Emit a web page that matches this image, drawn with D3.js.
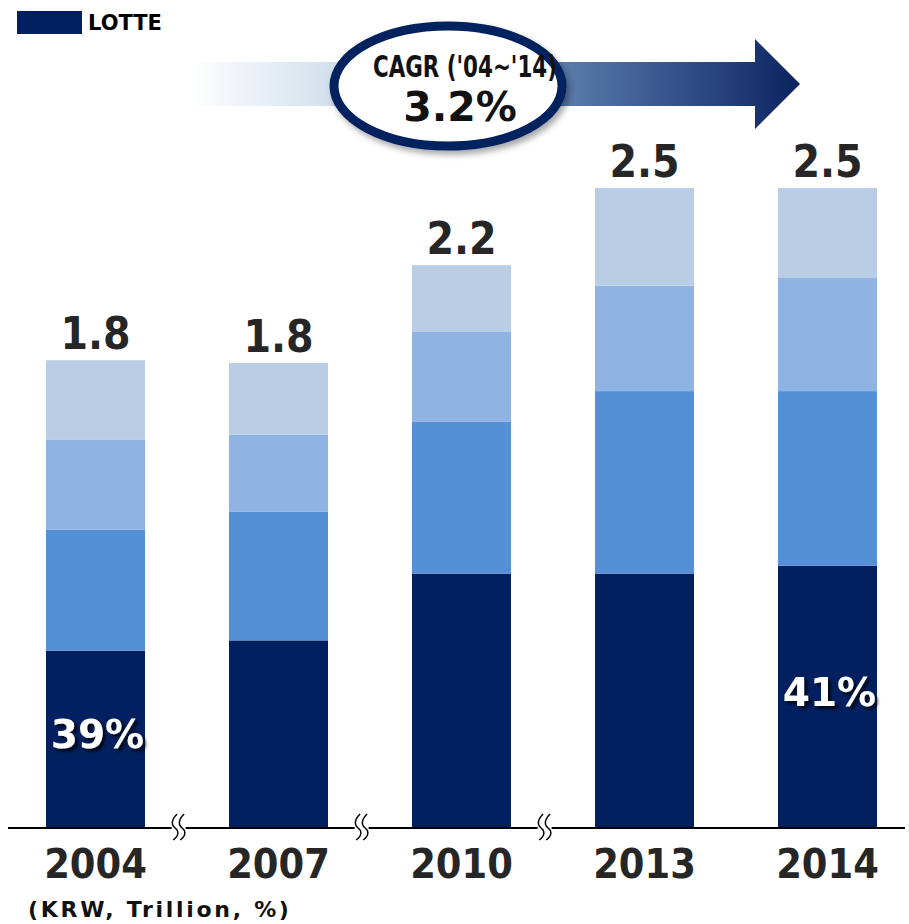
<!DOCTYPE html>
<html>
<head>
<meta charset="utf-8">
<script src="https://cdn.jsdelivr.net/npm/d3@7"></script>
<style>
  html, body { margin: 0; padding: 0; background: #ffffff; }
  svg { display: block; }
</style>
</head>
<body>
<svg id="chart" width="909" height="924"></svg>
<script>
// ---- data ----
const years = ["2004", "2007", "2010", "2013", "2014"];
const lotte  = [0.69, 0.73, 0.99, 0.99, 1.02];
const seg2   = [0.47, 0.50, 0.59, 0.71, 0.68];
const seg3   = [0.35, 0.30, 0.35, 0.41, 0.44];
const seg4   = [0.31, 0.28, 0.26, 0.38, 0.35];
const totalLabels = ["1.8", "1.8", "2.2", "2.5", "2.5"];
const shareLabels = ["39%", "", "", "", "41%"];
const legendLabel = "LOTTE";
const cagrTitle = "CAGR ('04~'14)";
const cagrValue = "3.2%";
const unitLabel = "(KRW, Trillion, %)";

const seriesKeys = ["lotte", "seg2", "seg3", "seg4"];
const colors = {lotte: "#02205f", seg2: "#5590d6", seg3: "#8fb4e3", seg4: "#b9cde5"};

const rows = years.map((y, i) => ({year: y, lotte: lotte[i], seg2: seg2[i], seg3: seg3[i], seg4: seg4[i]}));

const svg = d3.select("#chart");
const defs = svg.append("defs");

const baseY = 828;
const x = d3.scaleBand().domain(years).range([46, 877]).paddingInner(0.459).paddingOuter(0);
const y = d3.scaleLinear().domain([0, 3]).range([baseY, baseY - 771]);

// ---- stacked bars ----
const stack = d3.stack().keys(seriesKeys)(rows);
svg.append("g").selectAll("g").data(stack).join("g")
  .attr("fill", d => colors[d.key])
  .selectAll("rect").data(d => d).join("rect")
  .attr("x", d => x(d.data.year))
  .attr("width", x.bandwidth())
  .attr("y", d => y(d[1]))
  .attr("height", d => y(d[0]) - y(d[1]));

// ---- axis line ----
svg.append("line").attr("x1", 8).attr("x2", 905).attr("y1", baseY).attr("y2", baseY)
  .attr("stroke", "#000").attr("stroke-width", 2);

// break marks between first gaps
const gap = x.step() - x.bandwidth();
years.slice(0, 3).forEach(yr => {
  const cx = x(yr) + x.bandwidth() + gap * 0.4;
  svg.append("rect").attr("x", cx - 7).attr("y", baseY - 3).attr("width", 14).attr("height", 6).attr("fill", "#fff");
  [-3.5, 3.5].forEach(off => {
    const px = cx + off;
    svg.append("path")
      .attr("d", `M${px + 2},${baseY - 14} C${px - 4},${baseY - 8} ${px - 4},${baseY - 3} ${px},${baseY} C${px + 4},${baseY + 3} ${px + 4},${baseY + 8} ${px - 2},${baseY + 12}`)
      .attr("fill", "none").attr("stroke", "#000").attr("stroke-width", 1.4);
  });
});

// ---- total labels ----
svg.append("g").selectAll("text").data(rows).join("text")
  .attr("x", d => x(d.year) + x.bandwidth() / 2)
  .attr("y", d => y(d.lotte + d.seg2 + d.seg3 + d.seg4) - 11)
  .attr("text-anchor", "middle")
  .attr("font-family", "'DejaVu Sans Condensed', 'DejaVu Sans', sans-serif")
  .attr("font-weight", "bold")
  .attr("font-size", 44)
  .attr("fill", "#262626")
  .text((d, i) => totalLabels[i]);

// ---- share labels with shadow ----
const sh = defs.append("filter").attr("id", "txtShadow").attr("x", "-20%").attr("y", "-30%").attr("width", "150%").attr("height", "170%");
sh.append("feDropShadow").attr("dx", 3).attr("dy", 3).attr("stdDeviation", 1.5)
  .attr("flood-color", "#000").attr("flood-opacity", 0.75);

svg.append("g").selectAll("text").data(rows.filter((d, i) => shareLabels[i] !== "")).join("text")
  .attr("x", d => x(d.year) + x.bandwidth() / 2 + 2)
  .attr("y", d => (y(0) + y(d.lotte)) / 2 + 9)
  .attr("text-anchor", "middle")
  .attr("font-family", "'DejaVu Sans', sans-serif")
  .attr("font-weight", "bold")
  .attr("font-size", 39)
  .attr("fill", "#ffffff")
  .attr("filter", "url(#txtShadow)")
  .text(d => shareLabels[years.indexOf(d.year)]);

// ---- year labels ----
svg.append("g").selectAll("text").data(years).join("text")
  .attr("x", d => x(d) + x.bandwidth() / 2)
  .attr("y", 878)
  .attr("text-anchor", "middle")
  .attr("font-family", "'DejaVu Sans Condensed', 'DejaVu Sans', sans-serif")
  .attr("font-weight", "bold")
  .attr("font-size", 41)
  .attr("fill", "#262626")
  .text(d => d);

// ---- unit label ----
svg.append("text").attr("x", 28).attr("y", 917)
  .attr("font-family", "'DejaVu Sans', sans-serif").attr("font-weight", "bold")
  .attr("font-size", 22).attr("letter-spacing", 2.7).attr("fill", "#111")
  .text(unitLabel);

// ---- legend ----
svg.append("rect").attr("x", 17).attr("y", 11).attr("width", 65).attr("height", 23).attr("fill", colors.lotte);
svg.append("text").attr("x", 88).attr("y", 30)
  .attr("font-family", "'DejaVu Sans', sans-serif").attr("font-weight", "bold")
  .attr("font-size", 21).attr("fill", "#000").text(legendLabel);

// ---- CAGR arrow ----
const grad = defs.append("linearGradient").attr("id", "arrowGrad")
  .attr("gradientUnits", "userSpaceOnUse").attr("x1", 190).attr("x2", 800).attr("y1", 0).attr("y2", 0);
[[0, "#ffffff"], [0.23, "#d3e0ed"], [0.62, "#5a7aaa"], [0.92, "#1c3672"], [1, "#0a235d"]]
  .forEach(([o, c]) => grad.append("stop").attr("offset", o).attr("stop-color", c));

svg.append("path")
  .attr("d", "M190,62 L755,62 L755,39 L800,84 L755,129 L755,106 L190,106 Z")
  .attr("fill", "url(#arrowGrad)");

const es = defs.append("filter").attr("id", "ellShadow").attr("x", "-20%").attr("y", "-20%").attr("width", "150%").attr("height", "160%");
es.append("feDropShadow").attr("dx", 3).attr("dy", 4).attr("stdDeviation", 3)
  .attr("flood-color", "#000").attr("flood-opacity", 0.35);

svg.append("ellipse").attr("cx", 448).attr("cy", 86).attr("rx", 114).attr("ry", 60)
  .attr("fill", "#fff").attr("stroke", "#02205f").attr("stroke-width", 9)
  .attr("filter", "url(#ellShadow)");

svg.append("text").attr("x", 465).attr("y", 77)
  .attr("text-anchor", "middle")
  .attr("font-family", "'DejaVu Sans Condensed', 'DejaVu Sans', sans-serif")
  .attr("font-weight", "bold").attr("font-size", 31)
  .attr("textLength", 184).attr("lengthAdjust", "spacingAndGlyphs")
  .attr("fill", "#111").text(cagrTitle);

svg.append("text").attr("x", 460).attr("y", 121)
  .attr("text-anchor", "middle")
  .attr("font-family", "'DejaVu Sans', sans-serif")
  .attr("font-weight", "bold").attr("font-size", 41)
  .attr("fill", "#111").text(cagrValue);
</script>
</body>
</html>
